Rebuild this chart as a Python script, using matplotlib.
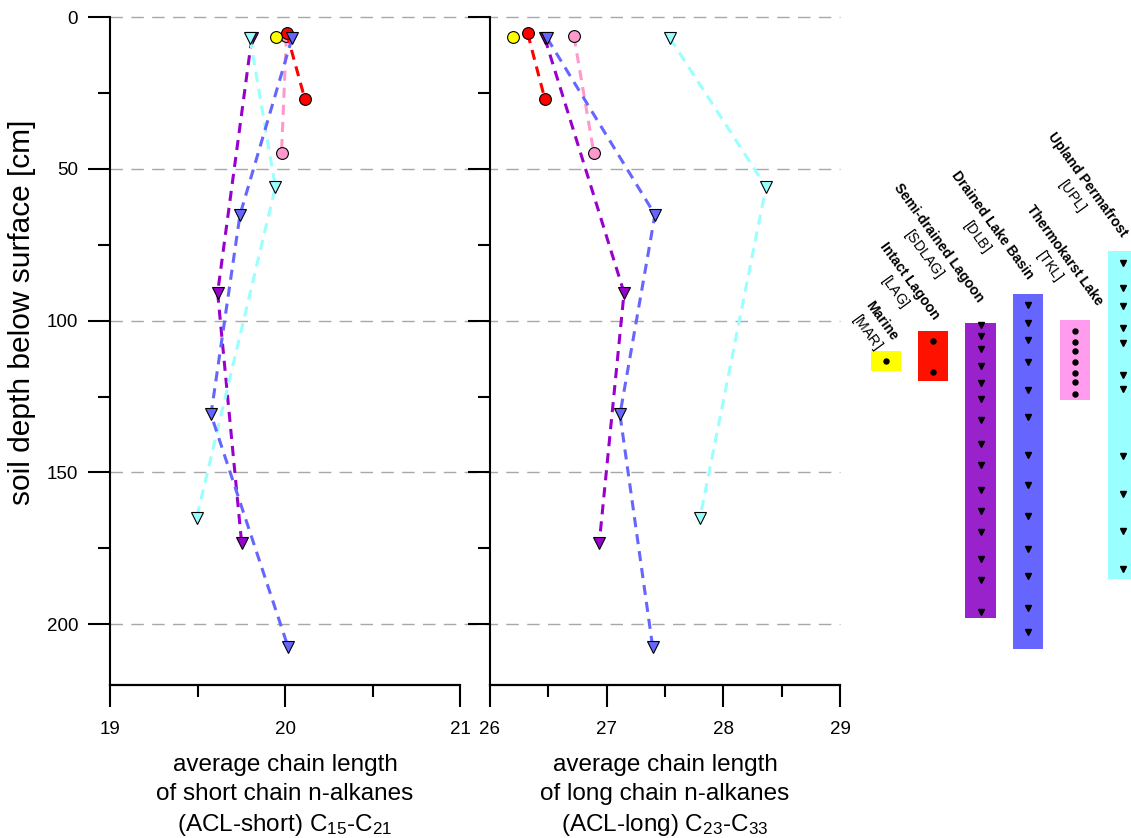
import matplotlib
matplotlib.use('Agg')
import matplotlib.pyplot as plt
from matplotlib.ticker import MultipleLocator

plt.rcParams['font.family'] = ['Liberation Sans', 'DejaVu Sans']
plt.rcParams['mathtext.fontset'] = 'custom'
plt.rcParams['mathtext.rm'] = 'Liberation Sans'
plt.rcParams['mathtext.it'] = 'Liberation Sans:italic'
plt.rcParams['mathtext.bf'] = 'Liberation Sans:bold'

# --- sample data (depth in cm, ACL values) ---
codes = ['MAR', 'LAG', 'SDLAG', 'DLB', 'TKL', 'UPL']
names = ['Marine', 'Intact Lagoon', 'Semi-drained Lagoon', 'Drained Lake Basin',
         'Thermokarst Lake', 'Upland Permafrost']
colors = ['#FFFF00', '#FF0000', '#9900CC', '#6666FF', '#FF99CC', '#99FFFF']
box_colors = ['#FFFF00', '#FF1100', '#9922CC', '#6666FF', '#FF9CEE', '#99FFFF']
markers = ['o', 'o', 'v', 'v', 'o', 'v']

depth_mar = [6.5]
short_mar = [19.947]
long_mar = [26.194]

depth_lag = [5.4, 27.1]
short_lag = [20.01, 20.114]
long_lag = [26.323, 26.471]

depth_sdlag = [7, 90.8, 173.1]
short_sdlag = [19.81, 19.615, 19.752]
long_sdlag = [26.47, 27.149, 26.937]

depth_dlb = [7, 65.1, 130.9, 207.4]
short_dlb = [20.04, 19.743, 19.577, 20.017]
long_dlb = [26.49, 27.414, 27.114, 27.394]

depth_tkl = [6.4, 44.8]
short_tkl = [20.008, 19.98]
long_tkl = [26.72, 26.89]

depth_upl = [7, 56, 164.9]
short_upl = [19.80, 19.945, 19.495]
long_upl = [27.543, 28.366, 27.80]

# legend columns: depth range of each profile and its sample depths
box_top = [110.1, 103.5, 100.8, 91.2, 99.9, 77.2]
box_bottom = [116.5, 120.0, 197.8, 208.0, 126.0, 185.2]
samples_mar = [113.4]
samples_lag = [106.6, 116.8]
samples_sdlag = [101.3, 104.9, 109.2, 114.8, 120.5, 125.8, 132.6, 140.6,
                 147.4, 155.8, 162.7, 169.6, 178.6, 185.5, 195.8]
samples_dlb = [94.7, 100.8, 106.5, 113.7, 122.9, 131.7, 144.3, 154.0,
               164.4, 175.1, 184.1, 194.5, 202.7]
samples_tkl = [103.5, 107.1, 110.1, 113.6, 117.2, 120.2, 124.3]
samples_upl = [81.0, 89.2, 95.3, 102.4, 107.3, 117.8, 122.5, 144.6,
               157.0, 169.3, 181.9]

depths = [depth_mar, depth_lag, depth_sdlag, depth_dlb, depth_tkl, depth_upl]
shorts = [short_mar, short_lag, short_sdlag, short_dlb, short_tkl, short_upl]
longs = [long_mar, long_lag, long_sdlag, long_dlb, long_tkl, long_upl]
samples = [samples_mar, samples_lag, samples_sdlag, samples_dlb, samples_tkl, samples_upl]

# label offsets (points) from top centre of each legend column
label_offsets = [(10.9, 11.9), (6.6, 12.6), (4.5, 19.1), (5.9, 14.8), (21.7, 14.8), (5.2, 14.8)]

draw_order = [4, 1, 0, 2, 5, 3]

W, H = 1131, 838
fig = plt.figure(figsize=(W / 100, H / 100), dpi=100)
ax1 = fig.add_axes([110 / W, 153 / H, 350 / W, 668 / H])
ax2 = fig.add_axes([490 / W, 153 / H, 350 / W, 668 / H])
ax3 = fig.add_axes([862 / W, 153 / H, 269 / W, 668 / H])

dash = (0, (3.3, 2.3))
for ax, vals in [(ax1, shorts), (ax2, longs)]:
    for i in draw_order:
        ax.plot(vals[i], depths[i], ls=dash, lw=2.2, color=colors[i],
                marker=markers[i], ms=9 if markers[i] == 'v' else 8.5,
                mec='black', mew=0.8, clip_on=False)
    ax.set_ylim(220, 0)
    ax.patch.set_visible(False)
    for s in ['top', 'right']:
        ax.spines[s].set_visible(False)
    ax.spines['left'].set_linewidth(1.5)
    ax.spines['bottom'].set_linewidth(1.6)
    ax.yaxis.set_major_locator(MultipleLocator(50))
    ax.yaxis.set_minor_locator(MultipleLocator(25))
    ax.tick_params(axis='both', which='major', direction='out', length=16, width=1.5,
                   labelsize=13.5)
    ax.tick_params(axis='both', which='minor', direction='out', length=8.5, width=1.5)
    ax.tick_params(axis='x', which='major', pad=10)
    ax.tick_params(axis='y', which='major', pad=7)

ax1.set_xlim(19, 21)
ax1.xaxis.set_major_locator(MultipleLocator(1))
ax1.xaxis.set_minor_locator(MultipleLocator(0.5))
ax2.set_xlim(26, 29)
ax2.xaxis.set_major_locator(MultipleLocator(1))
ax2.xaxis.set_minor_locator(MultipleLocator(0.5))
ax2.tick_params(axis='y', labelleft=False)

# dashed depth lines running across both panels
for d in [0, 50, 100, 150, 200]:
    ax1.axhline(d, xmin=0, xmax=730 / 350, color='#A8A8A8', lw=1.0,
                dashes=(9, 6), clip_on=False, zorder=0.5)

ax1.set_ylabel('soil depth below surface [cm]', fontsize=21.5)
ax1.yaxis.set_label_coords(-0.21, 0.558)
ax1.set_xlabel('average chain length\nof short chain n-alkanes\n(ACL-short) C$_{15}$-C$_{21}$',
               fontsize=17.5, labelpad=11.5, linespacing=1.38)
ax2.set_xlabel('average chain length\nof long chain n-alkanes\n(ACL-long) C$_{23}$-C$_{33}$',
               fontsize=17.5, labelpad=11.5, linespacing=1.38)

# legend columns
ax3.set_xlim(-0.5, -0.5 + 269 / 47.4)
ax3.set_ylim(220, 0)
ax3.axis('off')
for i in range(len(codes)):
    ax3.bar(i, box_bottom[i] - box_top[i], bottom=box_top[i], width=0.633,
            color=box_colors[i], edgecolor='none', clip_on=False)
    ax3.plot([i] * len(samples[i]), samples[i], ls='none', marker=markers[i],
             ms=5 if markers[i] == 'v' else 3.6, color='black', clip_on=False)
    ax3.annotate(names[i] + '\n$\\mathrm{[' + codes[i] + ']}$',
                 xy=(i, box_top[i]), xytext=label_offsets[i], textcoords='offset points',
                 rotation=-54, rotation_mode='anchor', ha='right', va='top',
                 multialignment='center', fontsize=10.1, fontweight='bold')

fig.savefig('out.png', dpi=100)
